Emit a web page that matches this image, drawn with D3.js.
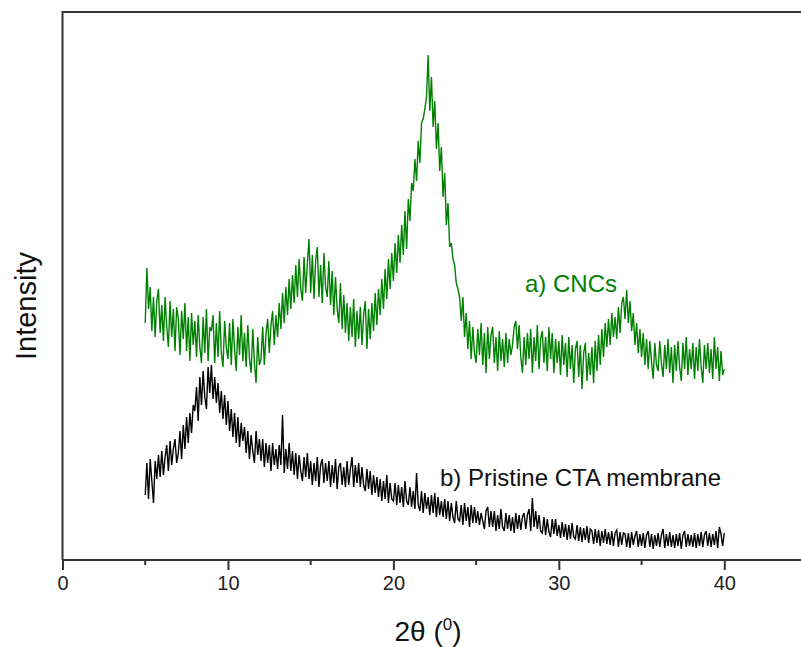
<!DOCTYPE html>
<html>
<head>
<meta charset="utf-8">
<script src="https://cdn.jsdelivr.net/npm/d3@7"></script>
<style>
  html, body { margin: 0; padding: 0; background: #fff; }
  #chart { width: 801px; height: 647px; }
</style>
</head>
<body>
<div id="chart"></div>
<script>
// 2-theta grid: 5.0 .. 40.0 deg, step 0.1
const thetaStart = 5.0;
const thetaStep = 0.1;

// a) CNCs, intensity (a.u.), one row per degree
const cncIntensity = [
  236, 291, 250, 272, 228, 262, 222, 258, 270, 226,
  254, 218, 262, 232, 212, 258, 222, 250, 208, 252,
  240, 204, 248, 220, 256, 208, 242, 198, 246, 214,
  238, 202, 244, 212, 196, 242, 206, 250, 198, 232,
  228, 244, 196, 236, 202, 248, 206, 192, 238, 212,
  200, 236, 194, 240, 210, 188, 232, 204, 244, 198,
  226, 192, 234, 200, 186, 230, 196, 176, 222, 194,
  200, 232, 194, 226, 240, 206, 234, 248, 214, 244,
  222, 256, 230, 266, 236, 272, 244, 280, 250, 284,
  256, 294, 262, 300, 270, 258, 302, 266, 296, 320,
  266, 304, 260, 298, 312, 262, 294, 256, 306, 272,
  262, 298, 254, 288, 244, 282, 250, 236, 276, 230,
  264, 226, 256, 218, 252, 222, 260, 212, 248, 220,
  252, 214, 244, 258, 210, 250, 220, 256, 228, 266,
  234, 270, 244, 280, 250, 290, 260, 300, 270, 306,
  278, 316, 286, 324, 296, 334, 304, 348, 310, 360,
  338, 376, 368, 400, 378, 418, 396, 436, 440, 450,
  462, 504, 448, 482, 432, 458, 410, 436, 388, 412,
  362, 386, 334, 356, 312, 316, 300, 294, 276, 270,
  262, 238, 262, 222, 246, 210, 238, 200, 232, 206,
  196, 230, 204, 236, 194, 226, 186, 232, 200, 224,
  232, 196, 222, 188, 228, 198, 220, 192, 226, 196,
  220, 204, 214, 232, 238, 210, 234, 202, 186, 222,
  194, 226, 200, 230, 186, 222, 198, 234, 190, 220,
  228, 196, 222, 188, 232, 200, 226, 186, 220, 196,
  218, 184, 224, 194, 216, 182, 222, 190, 214, 176,
  210, 218, 182, 214, 170, 206, 216, 178, 206, 184,
  212, 176, 218, 188, 224, 194, 230, 202, 236, 212,
  240, 214, 246, 222, 242, 220, 252, 226, 256, 262,
  240, 269, 236, 258, 228, 246, 214, 236, 206, 230,
  202, 226, 194, 220, 190, 218, 198, 180, 216, 194,
  188, 218, 196, 182, 214, 190, 220, 186, 212, 176,
  214, 188, 218, 192, 178, 216, 190, 222, 184, 210,
  190, 216, 180, 212, 188, 220, 192, 176, 214, 190,
  216, 186, 210, 180, 222, 190, 212, 178, 208, 184,
  190
];

// b) Pristine CTA membrane, intensity (a.u.)
const ctaIntensity = [
  64, 96, 60, 100, 78, 56, 98, 80, 104, 82,
  108, 84, 102, 114, 88, 118, 94, 110, 120, 96,
  106, 128, 100, 134, 110, 142, 116, 146, 126, 154,
  148, 172, 138, 182, 154, 188, 162, 150, 192, 166,
  194, 160, 182, 156, 176, 146, 168, 140, 164, 134,
  158, 128, 150, 122, 146, 116, 142, 112, 136, 118,
  132, 106, 128, 100, 124, 108, 96, 128, 104, 120,
  98, 120, 92, 116, 96, 114, 88, 116, 94, 110,
  90, 114, 94, 144, 86, 110, 90, 116, 88, 108,
  84, 106, 80, 104, 88, 78, 102, 82, 106, 80,
  98, 74, 96, 78, 102, 72, 94, 100, 76, 96,
  78, 98, 72, 94, 76, 100, 70, 92, 96, 74,
  92, 72, 98, 74, 90, 102, 72, 94, 76, 96,
  72, 92, 74, 68, 90, 70, 88, 64, 84, 66,
  82, 62, 80, 58, 78, 60, 84, 56, 76, 60,
  58, 76, 54, 74, 56, 72, 52, 78, 58, 54,
  72, 52, 68, 50, 86, 54, 48, 68, 46, 66,
  50, 62, 44, 64, 46, 66, 42, 62, 44, 58,
  42, 60, 40, 58, 38, 56, 42, 36, 58, 40,
  38, 54, 34, 56, 38, 52, 32, 54, 36, 52,
  36, 48, 34, 46, 38, 30, 48, 52, 32, 48,
  32, 48, 28, 44, 30, 50, 32, 28, 46, 30,
  44, 28, 42, 26, 46, 30, 44, 29, 42, 46,
  30, 44, 50, 28, 61, 32, 48, 30, 44, 28,
  26, 42, 24, 40, 27, 22, 40, 25, 40, 23,
  34, 21, 37, 22, 35, 19, 34, 20, 36, 22,
  20, 34, 18, 32, 17, 31, 19, 33, 16, 30,
  28, 15, 30, 16, 29, 13, 28, 16, 30, 15,
  27, 14, 28, 13, 26, 29, 12, 27, 14, 26,
  25, 12, 26, 11, 27, 14, 23, 28, 12, 25,
  13, 26, 11, 24, 28, 12, 25, 10, 24, 13,
  26, 12, 24, 30, 11, 25, 13, 27, 12, 24,
  11, 25, 13, 26, 10, 24, 28, 12, 25, 13,
  24, 12, 26, 11, 25, 13, 27, 12, 24, 28,
  13, 26, 12, 25, 14, 28, 11, 32, 25, 13,
  26
];

const xTicks = [0, 10, 20, 30, 40];
const xMinorTicks = [5, 15, 25, 35];
const seriesLabels = ["a) CNCs", "b) Pristine CTA membrane"];

const width = 801;
const height = 647;
const margin = { top: 12, bottom: 88, left: 62.5 };
const innerHeight = height - margin.top - margin.bottom;
const green = "#008000";
const axisColor = "#333";
const sans = "'Liberation Sans', Arial, sans-serif";

const toPoints = arr => arr.map((v, i) => ({ theta: thetaStart + i * thetaStep, value: v }));
const cnc = toPoints(cncIntensity);
const cta = toPoints(ctaIntensity);

const svg = d3.select("#chart").append("svg")
    .attr("width", width)
    .attr("height", height)
    .style("font-family", sans);

const g = svg.append("g")
    .attr("transform", `translate(${margin.left},${margin.top})`);

// 40 deg sits at x = 724, the frame runs off the right edge
const xScale = d3.scaleLinear()
    .domain([0, 40])
    .range([0, 724.3 - margin.left]);

const yScale = d3.scaleLinear()
    .domain([0, 547])
    .range([innerHeight, 0]);

const line = d3.line()
    .x(d => xScale(d.theta))
    .y(d => yScale(d.value));

g.append("path")
    .datum(cnc)
    .attr("fill", "none")
    .attr("stroke", green)
    .attr("stroke-width", 1.4)
    .attr("d", line);

g.append("path")
    .datum(cta)
    .attr("fill", "none")
    .attr("stroke", "#000")
    .attr("stroke-width", 1.4)
    .attr("d", line);

// frame: left and top edges (right edge is off canvas)
const frameRight = width - margin.left;
g.append("path")
    .attr("d", `M${frameRight},0H0V${innerHeight + 1}`)
    .attr("fill", "none")
    .attr("stroke", axisColor)
    .attr("stroke-width", 2);

// bottom axis
const xAxis = g.append("g")
    .attr("transform", `translate(0,${innerHeight + 1})`);

xAxis.append("line")
    .attr("x1", 0)
    .attr("x2", frameRight)
    .attr("stroke", axisColor)
    .attr("stroke-width", 2);

xAxis.call(d3.axisBottom(xScale).tickValues(xTicks).tickSize(10).tickPadding(6).tickFormat(d3.format("d")))
    .call(a => a.select(".domain").remove())
    .call(a => a.selectAll("line").attr("stroke", axisColor).attr("stroke-width", 2))
    .call(a => a.selectAll("text")
        .attr("fill", "#222")
        .style("font-family", sans)
        .style("font-size", "20px"));

xAxis.selectAll(".minor")
    .data(xMinorTicks)
    .enter()
    .append("line")
    .attr("class", "minor")
    .attr("x1", d => xScale(d))
    .attr("x2", d => xScale(d))
    .attr("y1", 0)
    .attr("y2", 5)
    .attr("stroke", axisColor)
    .attr("stroke-width", 2);

// axis titles
const xTitle = svg.append("text")
    .attr("x", 428)
    .attr("y", 641)
    .attr("text-anchor", "middle")
    .attr("fill", "#111")
    .style("font-size", "28px");
xTitle.append("tspan").text("2θ (");
xTitle.append("tspan").attr("dy", -11).style("font-size", "17px").text("0");
xTitle.append("tspan").attr("dy", 11).text(")");

svg.append("text")
    .attr("transform", "translate(36,306) rotate(-90)")
    .attr("text-anchor", "middle")
    .attr("fill", "#111")
    .style("font-size", "29px")
    .text("Intensity");

// series labels
svg.append("text")
    .attr("x", 525)
    .attr("y", 292)
    .attr("fill", green)
    .style("font-size", "24px")
    .text(seriesLabels[0]);

svg.append("text")
    .attr("x", 440)
    .attr("y", 486)
    .attr("fill", "#111")
    .style("font-size", "24px")
    .text(seriesLabels[1]);
</script>
</body>
</html>
